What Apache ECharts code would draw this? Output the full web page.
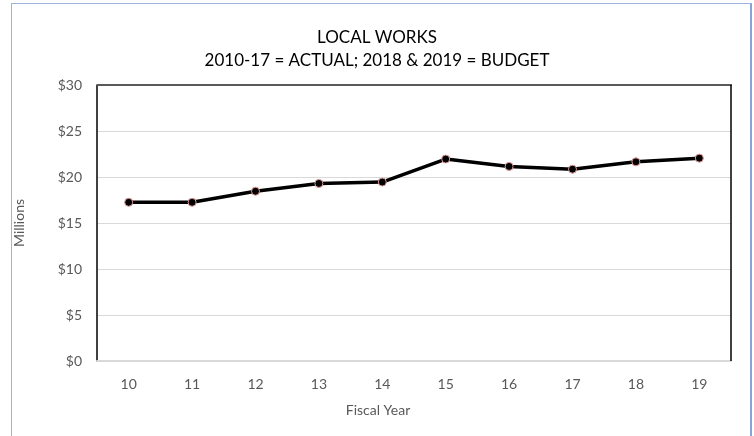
<!DOCTYPE html>
<html>
<head>
<meta charset="utf-8">
<script src="https://cdn.jsdelivr.net/npm/echarts@6/dist/echarts.min.js"></script>
<style>
  html, body { margin: 0; padding: 0; background: #fff; }
  #frame { position: absolute; left: 11px; top: 3px; width: 738px; height: 440px;
           border-left: 1px solid #9db3dc; border-top: 1px solid #9db3dc; border-right: 2px solid #86a4d6; }
  #chart { position: absolute; left: 0; top: 0; width: 754px; height: 436px; }
</style>
</head>
<body>
<div id="frame"></div>
<div id="chart"></div>
<script>
// Fiscal years (two-digit) and spending in millions of dollars
const fiscalYears = ['10', '11', '12', '13', '14', '15', '16', '17', '18', '19'];
const spending = [17.25, 17.25, 18.45, 19.3, 19.45, 21.95, 21.15, 20.85, 21.65, 22.05];
const titleLines = ['LOCAL WORKS', '2010-17 = ACTUAL; 2018 & 2019 = BUDGET'];

const font = 'Lato, "Open Sans", sans-serif';
const chart = echarts.init(document.getElementById('chart'), null, { renderer: 'canvas' });

chart.setOption({
  animation: false,
  backgroundColor: 'transparent',
  title: {
    text: titleLines.join('\n'),
    left: 'center',
    top: 21,
    textStyle: { fontFamily: font, fontSize: 17, fontWeight: 'normal', color: '#000', lineHeight: 23 }
  },
  grid: { left: 97, right: 23, top: 85, bottom: 75, show: true, borderWidth: 0 },
  xAxis: {
    type: 'category',
    data: fiscalYears,
    boundaryGap: true,
    name: 'Fiscal Year',
    nameLocation: 'middle',
    nameGap: 42,
    nameTextStyle: { fontFamily: font, fontSize: 14, color: '#595959', padding: [0, 72, 0, 0] },
    axisLine: { show: true, lineStyle: { color: '#d9d9d9', width: 2 } },
    axisTick: { show: false },
    axisLabel: { fontFamily: font, fontSize: 14, color: '#595959', margin: 16 },
    splitLine: { show: false }
  },
  yAxis: {
    type: 'value',
    min: 0,
    max: 30,
    interval: 5,
    name: 'Millions',
    nameLocation: 'middle',
    nameGap: 71,
    nameRotate: 90,
    nameTextStyle: { fontFamily: font, fontSize: 14, color: '#595959' },
    axisLine: { show: true, lineStyle: { color: '#000', width: 1.5 } },
    axisTick: { show: false },
    axisLabel: { fontFamily: font, fontSize: 14, color: '#595959', margin: 15, formatter: v => '$' + v },
    splitLine: { show: true, lineStyle: { color: '#d9d9d9', width: 1 } }
  },
  series: [
    {
      type: 'line',
      data: spending,
      symbol: 'circle',
      symbolSize: 8,
      lineStyle: { color: '#000', width: 3.5 },
      itemStyle: { color: '#000', borderColor: '#e39a9a', borderWidth: 1 },
      z: 3
    }
  ],
  graphic: [
    // frame around the plot area: dark top edge, black right edge
    { type: 'line', shape: { x1: 97, y1: 85, x2: 732, y2: 85 }, style: { stroke: '#595959', lineWidth: 2 }, z: 10 },
    { type: 'line', shape: { x1: 731, y1: 85, x2: 731, y2: 361 }, style: { stroke: '#000', lineWidth: 1.5 }, z: 10 }
  ]
});
</script>
</body>
</html>
